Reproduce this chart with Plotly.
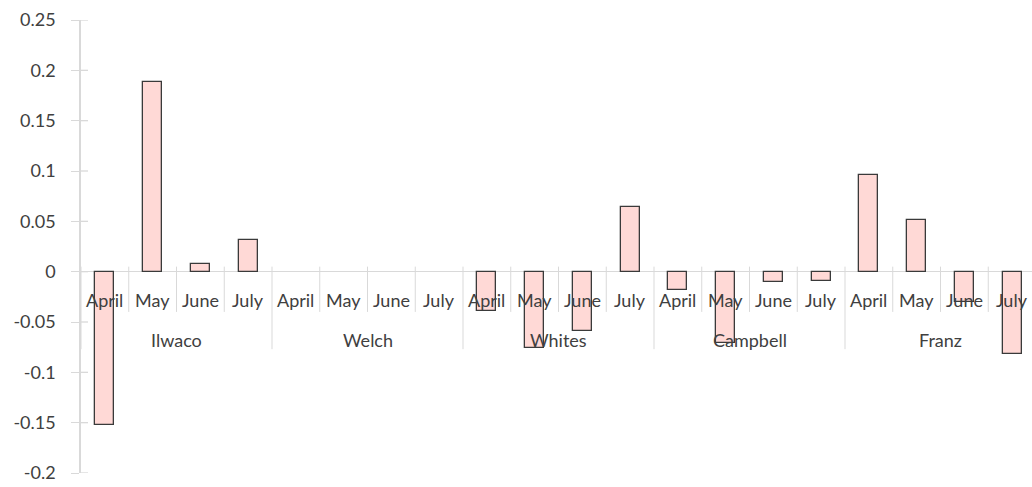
import plotly.graph_objects as go

groups = ["Ilwaco", "Welch", "Whites", "Campbell", "Franz"]
months = ["April", "May", "June", "July"]
values = {
    "Ilwaco": [-0.152, 0.188, 0.008, 0.031],
    "Welch": [None, None, None, None],
    "Whites": [-0.039, -0.076, -0.059, 0.064],
    "Campbell": [-0.018, -0.071, -0.010, -0.009],
    "Franz": [0.096, 0.051, -0.030, -0.082],
}
y_ticks = [0.25, 0.2, 0.15, 0.1, 0.05, 0, -0.05, -0.1, -0.15, -0.2]
y_tick_labels = ["0.25", "0.2", "0.15", "0.1", "0.05", "0", "-0.05", "-0.1", "-0.15", "-0.2"]

W, H = 1032, 487
ML, MR, MT, MB = 81, 0, 20, 14
cat_px = 47.75
n_cat = len(groups) * len(months)
x_right = -0.5 + (W - ML - MR) / cat_px

xs, ys = [], []
for gi, g in enumerate(groups):
    for mi, m in enumerate(months):
        xs.append(gi * len(months) + mi)
        ys.append(values[g][mi])

text_color = "#404040"
grid_color = "#d9d9d9"
font_family = "Lato, Calibri, Open Sans, sans-serif"

fig = go.Figure()
fig.add_trace(go.Bar(
    x=xs, y=ys, width=0.4,
    marker=dict(color="#ffd9d6", line=dict(color="#3a3a3a", width=1.3)),
    showlegend=False,
))

shapes = []
annotations = []
# month separators and labels
for i in range(n_cat + 1):
    is_group = (i % len(months) == 0)
    shapes.append(dict(
        type="line", xref="x", yref="y",
        x0=i - 0.5, x1=i - 0.5, y0=0.005, y1=(-0.077 if is_group else -0.04),
        line=dict(color=grid_color, width=1), layer="below",
    ))
for gi, g in enumerate(groups):
    for mi, m in enumerate(months):
        annotations.append(dict(
            x=gi * len(months) + mi, y=-0.028, xref="x", yref="y",
            text=m, showarrow=False,
            font=dict(family=font_family, size=18, color=text_color),
        ))
    annotations.append(dict(
        x=gi * len(months) + 1.5, y=-0.068, xref="x", yref="y",
        text=g, showarrow=False,
        font=dict(family=font_family, size=18, color=text_color),
    ))
# inner part of cross tick marks on y axis
for t in y_ticks:
    shapes.append(dict(
        type="line", xref="paper", yref="y",
        x0=0, x1=7 / (W - ML - MR), y0=t, y1=t,
        line=dict(color=grid_color, width=1.3), layer="below",
    ))

fig.update_layout(
    width=W, height=H,
    margin=dict(l=ML, r=MR, t=MT, b=MB),
    paper_bgcolor="white", plot_bgcolor="white",
    shapes=shapes, annotations=annotations,
    bargap=0,
    xaxis=dict(range=[-0.5, x_right], showticklabels=False, showgrid=False,
               zeroline=False, showline=False, ticks=""),
    yaxis=dict(range=[-0.2, 0.25], tickvals=y_ticks, ticktext=y_tick_labels,
               showgrid=False, zeroline=True, zerolinecolor=grid_color, zerolinewidth=1.3,
               showline=True, linecolor=grid_color, linewidth=1.5,
               ticks="outside", ticklen=8, tickcolor=grid_color, tickwidth=1.3,
               ticklabelstandoff=12,
               tickfont=dict(family=font_family, size=18, color=text_color)),
)

fig.write_html("out.html", config={"displayModeBar": False},
               post_script="document.body.style.margin='0';document.body.style.overflow='hidden';")
